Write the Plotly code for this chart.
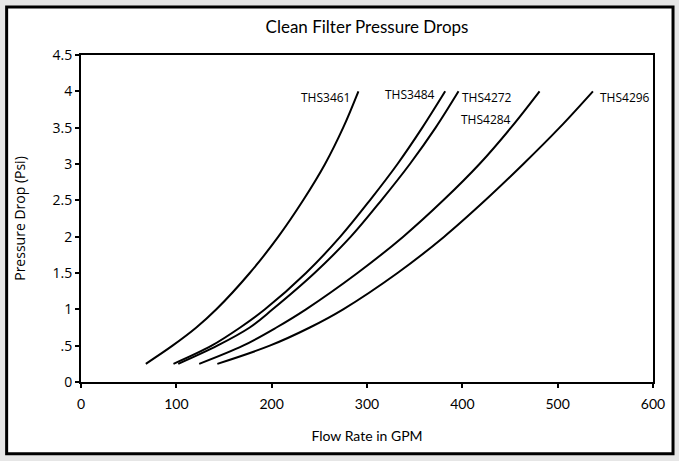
import plotly.graph_objects as go

# Data (flow in GPM, pressure drop in psi)
series_names = ["THS3461", "THS3484", "THS4272", "THS4284", "THS4296"]
drop_levels = [0.25, 0.5, 0.75, 1.0, 1.5, 2.0, 2.5, 3.0, 3.5, 4.0]
flow_3461 = [68, 96, 121, 142, 177, 207, 233, 256, 275, 291]
flow_3484 = [97, 137, 167, 193, 236, 272, 303, 332, 358, 382]
flow_4272 = [102, 143, 177, 201, 245, 283, 315, 345, 372, 396]
flow_4284 = [124, 170, 205, 236, 290, 338, 380, 418, 451, 481]
flow_4296 = [143, 198, 240, 275, 332, 381, 424, 464, 502, 537]

y_tickvals = [0, 0.5, 1, 1.5, 2, 2.5, 3, 3.5, 4, 4.5]
y_ticktext = ["0", ".5", "1", "1.5", "2", "2.5", "3", "3.5", "4", "4.5"]
x_tickvals = [0, 100, 200, 300, 400, 500, 600]

# label anchor positions (data coords) and alignment
label_x = [284, 373, 398, 453, 542]
label_y = [3.92, 3.96, 3.92, 3.61, 3.92]
label_anchor = ["right", "right", "left", "right", "left"]

flows = [flow_3461, flow_3484, flow_4272, flow_4284, flow_4296]

fig = go.Figure()
for name, fx in zip(series_names, flows):
    fig.add_trace(go.Scatter(
        x=fx, y=drop_levels, mode="lines", name=name,
        line=dict(color="black", width=2, shape="spline", smoothing=1.0),
        showlegend=False, hoverinfo="x+y+name",
    ))

for name, lx, ly, anc in zip(series_names, label_x, label_y, label_anchor):
    fig.add_annotation(
        x=lx, y=ly, text=name, showarrow=False, xanchor=anc, yanchor="middle",
        font=dict(family="Open Sans", size=12, color="black"),
    )

# outer frame
fig.add_shape(
    type="rect", xref="paper", yref="paper",
    x0=-0.130, x1=1.035, y0=-0.2196, y1=1.147,
    line=dict(color="black", width=3), fillcolor="white", layer="below",
)

fig.update_layout(
    width=679, height=461,
    margin=dict(l=81, r=26, t=55, b=79),
    paper_bgcolor="#e6e6e6",
    plot_bgcolor="white",
    title=dict(
        text="Clean Filter Pressure Drops", x=0.5, xanchor="center",
        xref="paper", y=1 - 27 / 461, yanchor="middle",
        font=dict(family="Lato", size=17, color="black"),
    ),
    xaxis=dict(
        range=[0, 600], tickvals=x_tickvals, showgrid=False, zeroline=False,
        showline=True, linecolor="black", linewidth=2, mirror=True,
        ticks="outside", ticklen=4, tickwidth=2, tickcolor="black",
        ticklabelstandoff=4,
        tickfont=dict(family="Lato", size=14, color="black"),
        title=dict(text="Flow Rate in GPM", standoff=20,
                   font=dict(family="Lato", size=14, color="black")),
    ),
    yaxis=dict(
        range=[0, 4.5], tickvals=y_tickvals, ticktext=y_ticktext,
        showgrid=False, zeroline=False,
        showline=True, linecolor="black", linewidth=2, mirror=True,
        ticks="outside", ticklen=4, tickwidth=2, tickcolor="black",
        tickfont=dict(family="Open Sans", size=14, color="black"),
        title=dict(text="Pressure Drop (Psi)", standoff=24,
                   font=dict(family="Open Sans", size=14, color="black")),
    ),
)

fig.write_html(
    "out.html",
    config={"displayModeBar": False},
    post_script="document.body.style.margin='0';document.body.style.overflow='hidden';",
)
